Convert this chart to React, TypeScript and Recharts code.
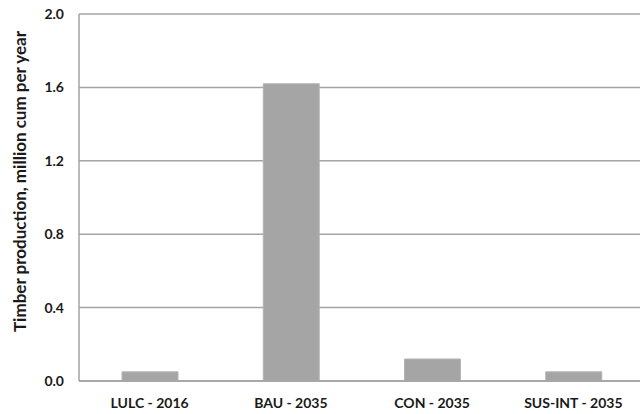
import { BarChart, Bar, XAxis, YAxis, CartesianGrid, Label } from 'recharts';

const scenarios = ['LULC - 2016', 'BAU - 2035', 'CON - 2035', 'SUS-INT - 2035'];
const timber = [0.05, 1.62, 0.12, 0.05];
const yTicks = [0, 0.4, 0.8, 1.2, 1.6, 2.0];

const data = scenarios.map((name, i) => ({ name, timber: timber[i] }));

const FONT = 'Lato, "Open Sans", sans-serif';
const GRID = '#a3a3a3';

export default function App() {
  return (
    <div style={{ position: 'absolute', left: 0, top: 0, width: 640, height: 414, overflow: 'hidden', background: '#fff' }}>
      <BarChart
        width={660}
        height={414}
        data={data}
        margin={{ top: 14, right: 16, left: 0, bottom: 0 }}
        barSize={56}
      >
        <CartesianGrid vertical={false} stroke={GRID} strokeWidth={1.5} />
        <XAxis
          dataKey="name"
          height={33}
          tickLine={false}
          axisLine={{ stroke: GRID, strokeWidth: 1.5 }}
          tickMargin={11}
          tick={{ fontFamily: FONT, fontSize: 14, fontWeight: 700, fill: '#1a1a1a' }}
        />
        <YAxis
          width={79}
          domain={[0, 2]}
          ticks={yTicks}
          tickFormatter={(v: number) => v.toFixed(1)}
          tickLine={false}
          tickSize={0}
          tickMargin={15}
          axisLine={{ stroke: GRID, strokeWidth: 1.5 }}
          tick={{ fontFamily: FONT, fontSize: 14, fontWeight: 700, fill: '#1a1a1a' }}
        >
          <Label
            value="Timber production, million cum per year"
            angle={-90}
            position="insideLeft"
            offset={20}
            dy={-16}
            style={{ fontFamily: FONT, fontSize: 17, fontWeight: 700, fill: '#1a1a1a', textAnchor: 'middle' }}
          />
        </YAxis>
        <Bar dataKey="timber" fill="#a5a5a5" stroke="#b5b5b5" strokeWidth={1} isAnimationActive={false} />
      </BarChart>
    </div>
  );
}
